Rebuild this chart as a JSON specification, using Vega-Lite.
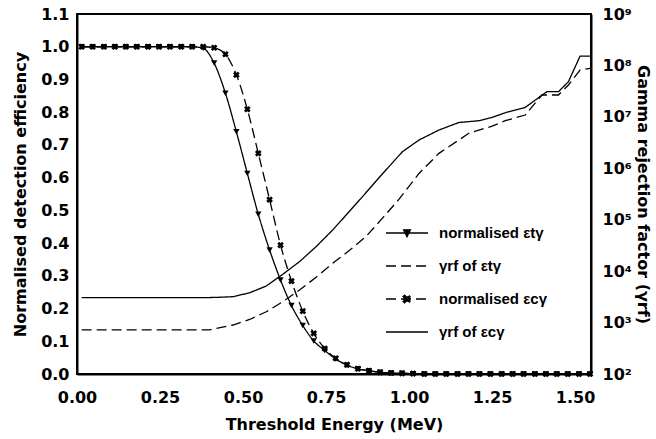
{
  "$schema": "https://vega.github.io/schema/vega-lite/v6.json",
  "width": 514,
  "height": 360,
  "autosize": {"type": "none"},
  "padding": {"left": 77, "top": 14, "right": 65, "bottom": 65},
  "background": "white",
  "config": {
    "view": {"stroke": "black", "strokeWidth": 2},
    "axis": {
      "grid": false,
      "domainColor": "black",
      "domainWidth": 2,
      "tickColor": "black",
      "tickWidth": 1.5,
      "labelFont": "DejaVu Sans",
      "labelFontWeight": "bold",
      "labelFontSize": 16,
      "labelColor": "black",
      "titleFont": "DejaVu Sans",
      "titleFontWeight": "bold",
      "titleFontSize": 16,
      "titleColor": "black",
      "labelOverlap": false,
      "labelFlush": false
    }
  },
  "datasets": {
    "eff": [
      {"energy": 0.014, "efficiency": 1.0, "series": "normalised εtγ"},
      {"energy": 0.047, "efficiency": 1.0, "series": "normalised εtγ"},
      {"energy": 0.081, "efficiency": 1.0, "series": "normalised εtγ"},
      {"energy": 0.114, "efficiency": 1.0, "series": "normalised εtγ"},
      {"energy": 0.147, "efficiency": 1.0, "series": "normalised εtγ"},
      {"energy": 0.180, "efficiency": 1.0, "series": "normalised εtγ"},
      {"energy": 0.214, "efficiency": 1.0, "series": "normalised εtγ"},
      {"energy": 0.247, "efficiency": 1.0, "series": "normalised εtγ"},
      {"energy": 0.280, "efficiency": 1.0, "series": "normalised εtγ"},
      {"energy": 0.314, "efficiency": 1.0, "series": "normalised εtγ"},
      {"energy": 0.347, "efficiency": 1.0, "series": "normalised εtγ"},
      {"energy": 0.380, "efficiency": 0.995, "series": "normalised εtγ"},
      {"energy": 0.413, "efficiency": 0.95, "series": "normalised εtγ"},
      {"energy": 0.447, "efficiency": 0.858, "series": "normalised εtγ"},
      {"energy": 0.480, "efficiency": 0.74, "series": "normalised εtγ"},
      {"energy": 0.513, "efficiency": 0.613, "series": "normalised εtγ"},
      {"energy": 0.546, "efficiency": 0.488, "series": "normalised εtγ"},
      {"energy": 0.580, "efficiency": 0.379, "series": "normalised εtγ"},
      {"energy": 0.613, "efficiency": 0.287, "series": "normalised εtγ"},
      {"energy": 0.646, "efficiency": 0.209, "series": "normalised εtγ"},
      {"energy": 0.680, "efficiency": 0.148, "series": "normalised εtγ"},
      {"energy": 0.713, "efficiency": 0.101, "series": "normalised εtγ"},
      {"energy": 0.746, "efficiency": 0.072, "series": "normalised εtγ"},
      {"energy": 0.779, "efficiency": 0.046, "series": "normalised εtγ"},
      {"energy": 0.813, "efficiency": 0.027, "series": "normalised εtγ"},
      {"energy": 0.846, "efficiency": 0.016, "series": "normalised εtγ"},
      {"energy": 0.879, "efficiency": 0.01, "series": "normalised εtγ"},
      {"energy": 0.913, "efficiency": 0.005, "series": "normalised εtγ"},
      {"energy": 0.946, "efficiency": 0.003, "series": "normalised εtγ"},
      {"energy": 0.979, "efficiency": 0.002, "series": "normalised εtγ"},
      {"energy": 1.012, "efficiency": 0.001, "series": "normalised εtγ"},
      {"energy": 1.046, "efficiency": 0.0, "series": "normalised εtγ"},
      {"energy": 1.079, "efficiency": 0.0, "series": "normalised εtγ"},
      {"energy": 1.112, "efficiency": 0.0, "series": "normalised εtγ"},
      {"energy": 1.146, "efficiency": 0.0, "series": "normalised εtγ"},
      {"energy": 1.179, "efficiency": 0.0, "series": "normalised εtγ"},
      {"energy": 1.212, "efficiency": 0.0, "series": "normalised εtγ"},
      {"energy": 1.245, "efficiency": 0.0, "series": "normalised εtγ"},
      {"energy": 1.279, "efficiency": 0.0, "series": "normalised εtγ"},
      {"energy": 1.312, "efficiency": 0.0, "series": "normalised εtγ"},
      {"energy": 1.345, "efficiency": 0.0, "series": "normalised εtγ"},
      {"energy": 1.379, "efficiency": 0.0, "series": "normalised εtγ"},
      {"energy": 1.412, "efficiency": 0.0, "series": "normalised εtγ"},
      {"energy": 1.445, "efficiency": 0.0, "series": "normalised εtγ"},
      {"energy": 1.478, "efficiency": 0.0, "series": "normalised εtγ"},
      {"energy": 1.512, "efficiency": 0.0, "series": "normalised εtγ"},
      {"energy": 1.545, "efficiency": 0.0, "series": "normalised εtγ"},
      {"energy": 0.014, "efficiency": 1.0, "series": "normalised εcγ"},
      {"energy": 0.047, "efficiency": 1.0, "series": "normalised εcγ"},
      {"energy": 0.081, "efficiency": 1.0, "series": "normalised εcγ"},
      {"energy": 0.114, "efficiency": 1.0, "series": "normalised εcγ"},
      {"energy": 0.147, "efficiency": 1.0, "series": "normalised εcγ"},
      {"energy": 0.180, "efficiency": 1.0, "series": "normalised εcγ"},
      {"energy": 0.214, "efficiency": 1.0, "series": "normalised εcγ"},
      {"energy": 0.247, "efficiency": 1.0, "series": "normalised εcγ"},
      {"energy": 0.280, "efficiency": 1.0, "series": "normalised εcγ"},
      {"energy": 0.314, "efficiency": 1.0, "series": "normalised εcγ"},
      {"energy": 0.347, "efficiency": 1.0, "series": "normalised εcγ"},
      {"energy": 0.380, "efficiency": 1.0, "series": "normalised εcγ"},
      {"energy": 0.413, "efficiency": 0.997, "series": "normalised εcγ"},
      {"energy": 0.447, "efficiency": 0.977, "series": "normalised εcγ"},
      {"energy": 0.480, "efficiency": 0.914, "series": "normalised εcγ"},
      {"energy": 0.513, "efficiency": 0.809, "series": "normalised εcγ"},
      {"energy": 0.546, "efficiency": 0.674, "series": "normalised εcγ"},
      {"energy": 0.580, "efficiency": 0.533, "series": "normalised εcγ"},
      {"energy": 0.613, "efficiency": 0.394, "series": "normalised εcγ"},
      {"energy": 0.646, "efficiency": 0.284, "series": "normalised εcγ"},
      {"energy": 0.680, "efficiency": 0.192, "series": "normalised εcγ"},
      {"energy": 0.713, "efficiency": 0.124, "series": "normalised εcγ"},
      {"energy": 0.746, "efficiency": 0.078, "series": "normalised εcγ"},
      {"energy": 0.779, "efficiency": 0.048, "series": "normalised εcγ"},
      {"energy": 0.813, "efficiency": 0.028, "series": "normalised εcγ"},
      {"energy": 0.846, "efficiency": 0.016, "series": "normalised εcγ"},
      {"energy": 0.879, "efficiency": 0.01, "series": "normalised εcγ"},
      {"energy": 0.913, "efficiency": 0.005, "series": "normalised εcγ"},
      {"energy": 0.946, "efficiency": 0.003, "series": "normalised εcγ"},
      {"energy": 0.979, "efficiency": 0.002, "series": "normalised εcγ"},
      {"energy": 1.012, "efficiency": 0.001, "series": "normalised εcγ"},
      {"energy": 1.046, "efficiency": 0.0, "series": "normalised εcγ"},
      {"energy": 1.079, "efficiency": 0.0, "series": "normalised εcγ"},
      {"energy": 1.112, "efficiency": 0.0, "series": "normalised εcγ"},
      {"energy": 1.146, "efficiency": 0.0, "series": "normalised εcγ"},
      {"energy": 1.179, "efficiency": 0.0, "series": "normalised εcγ"},
      {"energy": 1.212, "efficiency": 0.0, "series": "normalised εcγ"},
      {"energy": 1.245, "efficiency": 0.0, "series": "normalised εcγ"},
      {"energy": 1.279, "efficiency": 0.0, "series": "normalised εcγ"},
      {"energy": 1.312, "efficiency": 0.0, "series": "normalised εcγ"},
      {"energy": 1.345, "efficiency": 0.0, "series": "normalised εcγ"},
      {"energy": 1.379, "efficiency": 0.0, "series": "normalised εcγ"},
      {"energy": 1.412, "efficiency": 0.0, "series": "normalised εcγ"},
      {"energy": 1.445, "efficiency": 0.0, "series": "normalised εcγ"},
      {"energy": 1.478, "efficiency": 0.0, "series": "normalised εcγ"},
      {"energy": 1.512, "efficiency": 0.0, "series": "normalised εcγ"},
      {"energy": 1.545, "efficiency": 0.0, "series": "normalised εcγ"}
    ],
    "grf": [
      {"energy": 0.014, "rejection": 718, "series": "γrf of εtγ"},
      {"energy": 0.40, "rejection": 724, "series": "γrf of εtγ"},
      {"energy": 0.47, "rejection": 897, "series": "γrf of εtγ"},
      {"energy": 0.52, "rejection": 1148, "series": "γrf of εtγ"},
      {"energy": 0.57, "rejection": 1622, "series": "γrf of εtγ"},
      {"energy": 0.62, "rejection": 2547, "series": "γrf of εtγ"},
      {"energy": 0.67, "rejection": 4295, "series": "γrf of εtγ"},
      {"energy": 0.72, "rejection": 7586, "series": "γrf of εtγ"},
      {"energy": 0.77, "rejection": 14190, "series": "γrf of εtγ"},
      {"energy": 0.82, "rejection": 25120, "series": "γrf of εtγ"},
      {"energy": 0.87, "rejection": 46770, "series": "γrf of εtγ"},
      {"energy": 0.92, "rejection": 107150, "series": "γrf of εtγ"},
      {"energy": 0.97, "rejection": 251190, "series": "γrf of εtγ"},
      {"energy": 1.03, "rejection": 794300, "series": "γrf of εtγ"},
      {"energy": 1.09, "rejection": 1950000, "series": "γrf of εtγ"},
      {"energy": 1.15, "rejection": 3548000, "series": "γrf of εtγ"},
      {"energy": 1.18, "rejection": 4786000, "series": "γrf of εtγ"},
      {"energy": 1.25, "rejection": 6607000, "series": "γrf of εtγ"},
      {"energy": 1.29, "rejection": 8414000, "series": "γrf of εtγ"},
      {"energy": 1.35, "rejection": 10860000, "series": "γrf of εtγ"},
      {"energy": 1.40, "rejection": 26610000, "series": "γrf of εtγ"},
      {"energy": 1.45, "rejection": 26610000, "series": "γrf of εtγ"},
      {"energy": 1.48, "rejection": 41690000, "series": "γrf of εtγ"},
      {"energy": 1.515, "rejection": 81280000, "series": "γrf of εtγ"},
      {"energy": 1.545, "rejection": 87900000, "series": "γrf of εtγ"},
      {"energy": 0.014, "rejection": 3048, "series": "γrf of εcγ"},
      {"energy": 0.38, "rejection": 3048, "series": "γrf of εcγ"},
      {"energy": 0.42, "rejection": 3090, "series": "γrf of εcγ"},
      {"energy": 0.47, "rejection": 3184, "series": "γrf of εcγ"},
      {"energy": 0.52, "rejection": 3802, "series": "γrf of εcγ"},
      {"energy": 0.57, "rejection": 5140, "series": "γrf of εcγ"},
      {"energy": 0.62, "rejection": 8710, "series": "γrf of εcγ"},
      {"energy": 0.67, "rejection": 15280, "series": "γrf of εcγ"},
      {"energy": 0.72, "rejection": 29850, "series": "γrf of εcγ"},
      {"energy": 0.77, "rejection": 63100, "series": "γrf of εcγ"},
      {"energy": 0.82, "rejection": 144500, "series": "γrf of εcγ"},
      {"energy": 0.86, "rejection": 281800, "series": "γrf of εcγ"},
      {"energy": 0.91, "rejection": 660700, "series": "γrf of εcγ"},
      {"energy": 0.98, "rejection": 2099000, "series": "γrf of εcγ"},
      {"energy": 1.03, "rejection": 3548000, "series": "γrf of εcγ"},
      {"energy": 1.09, "rejection": 5546000, "series": "γrf of εcγ"},
      {"energy": 1.15, "rejection": 7762000, "series": "γrf of εcγ"},
      {"energy": 1.21, "rejection": 8414000, "series": "γrf of εcγ"},
      {"energy": 1.25, "rejection": 9772000, "series": "γrf of εcγ"},
      {"energy": 1.29, "rejection": 12020000, "series": "γrf of εcγ"},
      {"energy": 1.35, "rejection": 15310000, "series": "γrf of εcγ"},
      {"energy": 1.415, "rejection": 30830000, "series": "γrf of εcγ"},
      {"energy": 1.45, "rejection": 30830000, "series": "γrf of εcγ"},
      {"energy": 1.48, "rejection": 48190000, "series": "γrf of εcγ"},
      {"energy": 1.515, "rejection": 151400000, "series": "γrf of εcγ"},
      {"energy": 1.545, "rejection": 151400000, "series": "γrf of εcγ"}
    ]
  },
  "layer": [
    {
      "data": {"name": "eff"},
      "encoding": {
        "x": {
          "field": "energy",
          "type": "quantitative",
          "scale": {"domain": [0, 1.548], "nice": false, "zero": false},
          "axis": {
            "title": "Threshold Energy (MeV)",
            "values": [0, 0.25, 0.5, 0.75, 1, 1.25, 1.5],
            "format": ".2f",
            "ticks": false,
            "tickSize": 0,
            "labelOverlap": false,
            "labelPadding": 15,
            "titlePadding": 11
          }
        }
      },
      "layer": [
        {
          "mark": {"type": "line", "color": "black", "strokeWidth": 1.3, "interpolate": "monotone"},
          "encoding": {
            "y": {
              "field": "efficiency",
              "type": "quantitative",
              "scale": {"domain": [0, 1.1], "nice": false},
              "axis": {
                "title": "Normalised detection efficiency",
                "values": [0, 0.2, 0.4, 0.6, 0.8, 1],
                "format": ".1f",
                "ticks": false,
                "tickSize": 0,
                "labelOverlap": false,
                "labelPadding": 8,
                "titlePadding": 12
              }
            },
            "strokeDash": {
              "field": "series",
              "type": "nominal",
              "scale": {
                "domain": ["normalised εtγ", "γrf of εtγ", "normalised εcγ", "γrf of εcγ"],
                "range": [[1, 0], [10, 5], [10, 5], [1, 0]]
              },
              "legend": {
                "title": null,
                "orient": "none",
                "legendX": 308,
                "legendY": 209,
                "padding": 0,
                "symbolType": "stroke",
                "symbolSize": 1764,
                "symbolStrokeWidth": 1.4,
                "symbolStrokeColor": "black",
                "clipHeight": 20,
                "rowPadding": 13,
                "labelOffset": 10,
                "labelFont": "Liberation Sans",
                "labelFontWeight": "bold",
                "labelFontSize": 15,
                "labelColor": "black",
                "labelLimit": 300,
                "encode": {
                  "symbols": {
                    "update": {
                      "shape": {"signal": "datum.value === 'normalised εtγ' ? 'M-1,0L1,0M-0.16,-0.15L0.16,-0.15L0,0.17Z' : datum.value === 'normalised εcγ' ? 'M-1,0L1,0M-0.185,-0.115L-0.115,-0.185L0.185,0.115L0.115,0.185ZM-0.185,0.115L-0.115,0.185L0.185,-0.115L0.115,-0.185Z' : 'stroke'"},
                      "fill": {"value": "black"},
                      "stroke": {"value": "black"}
                    }
                  }
                }
              }
            }
          }
        },
        {
          "transform": [{"filter": "datum.series === 'normalised εtγ'"}],
          "mark": {"type": "point", "shape": "triangle-down", "filled": true, "color": "black", "size": 40, "opacity": 1},
          "encoding": {"y": {"field": "efficiency", "type": "quantitative"}}
        },
        {
          "transform": [{"filter": "datum.series === 'normalised εcγ'"}],
          "mark": {"type": "point", "shape": "cross", "angle": 45, "filled": true, "color": "black", "size": 45, "opacity": 1},
          "encoding": {"y": {"field": "efficiency", "type": "quantitative"}}
        }
      ]
    },
    {
      "data": {"name": "grf"},
      "mark": {"type": "line", "color": "black", "strokeWidth": 1.3},
      "encoding": {
        "x": {
          "field": "energy",
          "type": "quantitative",
          "scale": {"domain": [0, 1.548], "nice": false, "zero": false},
          "axis": null
        },
        "y": {
          "field": "rejection",
          "type": "quantitative",
          "scale": {"type": "log", "domain": [100, 1000000000], "nice": false},
          "axis": {
            "orient": "right",
            "title": "Gamma rejection factor (γrf)",
            "values": [1e2, 1e3, 1e4, 1e5, 1e6, 1e7, 1e8, 1e9],
            "labelExpr": "'10' + ['⁰','¹','²','³','⁴','⁵','⁶','⁷','⁸','⁹'][round(log(datum.value)/LN10)]",
            "ticks": false,
            "tickSize": 0,
            "labelOverlap": false,
            "labelPadding": 11,
            "titlePadding": 3
          }
        },
        "strokeDash": {"field": "series", "type": "nominal"}
      }
    },
    {
      "data": {"name": "eff"},
      "mark": {"type": "point", "opacity": 0},
      "encoding": {
        "x": {
          "field": "energy",
          "type": "quantitative",
          "scale": {"domain": [0, 1.548], "nice": false, "zero": false},
          "axis": null
        },
        "y": {
          "field": "efficiency",
          "type": "quantitative",
          "scale": {"domain": [0, 1.1], "nice": false},
          "axis": {
            "orient": "left",
            "title": null,
            "domain": false,
            "format": ".1f",
            "ticks": false,
            "tickSize": 0,
            "labelOverlap": false,
            "labelPadding": 8,
            "values": [0.1, 0.3, 0.5, 0.7, 0.9, 1.1]
          }
        }
      }
    }
  ],
  "resolve": {"scale": {"x": "independent", "y": "independent"}}
}
